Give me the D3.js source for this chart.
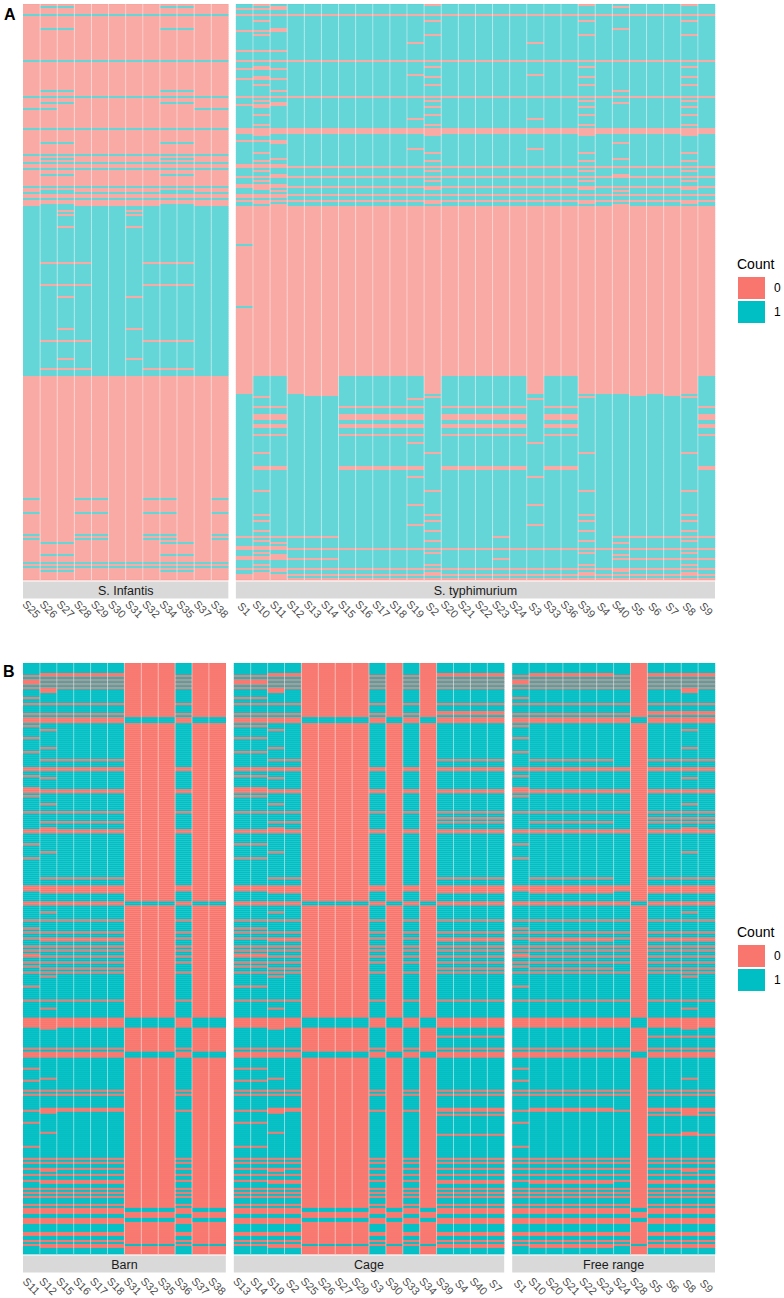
<!DOCTYPE html>
<html>
<head>
<meta charset="utf-8">
<script src="https://cdn.jsdelivr.net/npm/d3@7"></script>
<style>
  body { margin: 0; background: #fff; }
  svg text { font-family: "Liberation Sans", Arial, sans-serif; }
</style>
</head>
<body>
<svg id="chart" width="784" height="1298"></svg>
<script>
// column labels for each facet
var infantisCols = ["S25","S26","S27","S28","S29","S30","S31","S32","S34","S35","S37","S38"];
var typhiCols = ["S1","S10","S11","S12","S13","S14","S15","S16","S17","S18","S19","S2","S20","S21",
                 "S22","S23","S24","S3","S33","S36","S39","S4","S40","S5","S6","S7","S8","S9"];
var barnCols = ["S11","S12","S15","S16","S17","S18","S31","S32","S35","S36","S37","S38"];
var cageCols = ["S13","S14","S19","S2","S25","S26","S27","S29","S3","S30","S33","S34","S39","S4","S40","S7"];
var freeCols = ["S1","S10","S20","S21","S22","S23","S24","S28","S5","S6","S8","S9"];

var facetsA = ["S. Infantis", "S. typhimurium"];
var facetsB = ["Barn", "Cage", "Free range"];
var countLevels = ["0", "1"];

// row patterns (presence 0/1 per column, facets split by |)
var patternsA = {
  a:  "000000000000|1111111111111111111111111111",
  b:  "111111111111|0000000000000000000000000000",
  h:  "000000000000|0000000000000000000000000000",
  k:  "111111111111|1111111111111111111111111111",
  x:  "000000000000|0110001111101111101100000001",
  x2: "000000000000|1111001111111111111111101011",
  y:  "000000000000|1001110000010000010011111110",
  p:  "000000000000|1011111111101111111101111101",
  l:  "000000000000|0001111111111111111111111111",
  m:  "011000001100|1101111111111111111111011111",
  w:  "000000000000|1111111111011111101111111111",
  s:  "110111011111|0000000000000000000000000000",
  s3: "100011100011|0000000000000000000000000000",
  t:  "111111111111|1000000000000000000000000000",
  z2: "110000000011|1111111111111111111111111111",
  z3: "100110011001|1111111111111111111111111111",
  h2: "000000000000|0000001111111110111111000000"
};
var blocksA = [
  [1,"p"],[1,"m"],[1,"l"],[2,"a"],[1,"b"],[2,"a"],[1,"p"],[3,"a"],[1,"m"],[1,"l"],
  [1,"a"],[1,"p"],[3,"a"],[1,"w"],[3,"a"],[1,"l"],[4,"a"],[1,"b"],[2,"a"],[1,"p"],
  [1,"l"],[2,"a"],[1,"w"],[1,"p"],[1,"l"],[2,"a"],[1,"p"],[2,"a"],[1,"m"],[2,"a"],
  [1,"b"],[1,"a"],[1,"p"],[1,"m"],[1,"l"],[1,"p"],[1,"z2"],[2,"a"],[1,"p"],[1,"a"],
  [1,"w"],[2,"a"],[1,"p"],[1,"a"],[1,"b"],[2,"h"],
  [1,"p"],[2,"a"],[1,"l"],[1,"m"],[2,"a"],[1,"w"],[1,"a"],[1,"p"],[1,"k"],[1,"a"],
  [1,"m"],[1,"p"],[1,"k"],[1,"l"],[1,"h"],[1,"k"],[1,"p"],[1,"a"],[1,"m"],[1,"h"],
  [1,"a"],[1,"p"],[1,"a"],[1,"l"],[1,"b"],[1,"p"],[1,"m"],[1,"k"],[1,"h"],[1,"l"],
  [1,"k"],[1,"h"],[1,"p"],[1,"m"],
  [2,"b"],[1,"s"],[1,"b"],[1,"s"],[5,"b"],[1,"s"],[8,"b"],[1,"t"],[8,"b"],[1,"s3"],
  [10,"b"],[1,"s3"],[5,"b"],[1,"s"],[4,"b"],[1,"t"],[10,"b"],[1,"s"],[5,"b"],[1,"s3"],
  [8,"b"],[1,"s"],[4,"b"],[1,"s3"],[3,"b"],
  [9,"x"],[1,"x2"],
  [1,"p"],[1,"w"],[3,"a"],[1,"y"],[3,"a"],[3,"y"],[2,"a"],[2,"y"],[3,"a"],[1,"y"],
  [3,"a"],[1,"w"],[4,"a"],[1,"p"],[6,"a"],[2,"y"],[3,"a"],[1,"w"],[6,"a"],[1,"p"],
  [3,"a"],[1,"z3"],[2,"a"],[1,"w"],[3,"a"],[1,"z3"],[1,"p"],[2,"a"],
  [1,"p"],[1,"a"],[1,"w"],[2,"a"],[1,"p"],[1,"a"],[1,"z3"],[1,"h2"],[1,"z3"],[1,"p"],
  [1,"m"],[1,"a"],[1,"l"],[1,"h"],[1,"a"],[1,"p"],[1,"m"],[1,"l"],[1,"h2"],[1,"a"],
  [1,"k"],[1,"p"],[1,"k"],[1,"h"],[1,"m"],[1,"p"],[1,"h"],[1,"l"],[1,"h"]
];

var patternsB = {
  P: "111111000100|1111000010101111|111111101111",
  Z: "000000000000|0000000000000000|000000000000",
  I: "000000111011|0000111101010000|000000010000",
  L: "011111000100|0011000010101111|011111101111",
  R: "111111000100|1111000010100000|111111100000",
  C: "101111000100|1101000010101111|111111101101",
  D: "100000000100|1100000010100000|100000100000"
};
var blocksB = [
  [5,"P"],[1,"D"],[1,"Z"],[1,"P"],[1,"Z"],[1,"L"],[1,"Z"],[1,"P"],[1,"Z"],[2,"C"],
  [2,"P"],[1,"L"],[2,"P"],[1,"Z"],[3,"P"],[1,"R"],[1,"Z"],[1,"P"],[3,"I"],[1,"P"],
  [1,"L"],[1,"P"],[1,"C"],[3,"P"],[1,"L"],[4,"P"],[1,"C"],[1,"P"],[1,"L"],[3,"P"],
  [1,"D"],[3,"P"],[2,"Z"],[2,"P"],[1,"L"],[1,"C"],[4,"P"],[1,"L"],[2,"Z"],[1,"P"],
  [1,"L"],[3,"P"],[1,"C"],[3,"P"],[1,"Z"],[2,"P"],[1,"R"],[1,"P"],[1,"D"],[2,"P"],
  [1,"C"],[2,"Z"],[5,"P"],[1,"L"],[3,"P"],[1,"C"],[2,"P"],[1,"L"],[9,"P"],[1,"D"],
  [3,"P"],[3,"Z"],[1,"D"],[4,"P"],[2,"I"],[3,"P"],[1,"C"],[3,"P"],[1,"Z"],[3,"P"],
  [1,"L"],[1,"P"],[1,"Z"],[2,"P"],[1,"Z"],[1,"D"],[2,"P"],[1,"Z"],
  [1,"P"],[1,"Z"],[1,"P"],[1,"L"],[1,"Z"],[2,"P"],[1,"Z"],[1,"P"],[1,"L"],[1,"D"],
  [1,"P"],[1,"Z"],[1,"P"],[1,"C"],[4,"P"],[1,"L"],[6,"P"],[1,"Z"],[3,"P"],[1,"C"],
  [4,"P"],[5,"I"],[1,"C"],[3,"P"],[1,"R"],[5,"P"],[1,"Z"],[1,"P"],[3,"I"],[5,"P"],
  [1,"L"],[4,"P"],[1,"C"],[1,"L"],[4,"P"],[1,"Z"],[1,"P"],[1,"Z"],[6,"P"],[1,"D"],
  [1,"Z"],[1,"C"],[1,"R"],[3,"P"],[1,"L"],[4,"P"],[1,"C"],[1,"R"],[5,"P"],[1,"L"],
  [5,"P"],[1,"Z"],[1,"P"],[1,"Z"],[2,"P"],[1,"Z"],[1,"C"],[1,"P"],[1,"Z"],[2,"P"],
  [1,"Z"],[1,"D"],[2,"P"],[1,"Z"],[1,"P"],[1,"Z"],[1,"P"],[1,"Z"],[3,"P"],[1,"Z"],
  [1,"P"],[2,"I"],[1,"Z"],[2,"P"],[2,"I"],[1,"Z"],[4,"P"],[2,"Z"],[2,"P"],[1,"Z"],
  [1,"P"],[1,"I"],[1,"D"],[3,"P"]
];

var svg = d3.select("#chart");

function expand(blocks, patterns) {
  var rows = [];
  blocks.forEach(function(b) {
    for (var i = 0; i < b[0]; i++) rows.push(patterns[b[1]].split("|"));
  });
  return rows;
}

function drawPanel(opts) {
  var rows = expand(opts.blocks, opts.patterns);
  var nCols = d3.sum(opts.cols, function(c) { return c.length; });
  var colW = (opts.x1 - opts.x0 - opts.gap * (opts.cols.length - 1)) / nCols;

  var y = d3.scaleBand()
    .domain(d3.range(rows.length))
    .range([opts.y0, opts.y1]);

  var fill = d3.scaleOrdinal().domain(countLevels).range(opts.colors);

  var left = opts.x0;
  opts.cols.forEach(function(cols, f) {
    var w = cols.length * colW;
    var x = d3.scaleBand().domain(cols).range([left, left + w]);
    var g = svg.append("g");

    var cells = [];
    rows.forEach(function(r, i) {
      cols.forEach(function(c, j) {
        cells.push({ row: i, col: c, v: r[f].charAt(j) });
      });
    });

    g.selectAll("rect.cell")
      .data(cells)
      .enter()
      .append("rect")
      .attr("class", "cell")
      .attr("x", function(d) { return x(d.col); })
      .attr("y", function(d) { return y(d.row); })
      .attr("width", x.bandwidth() + 0.2)
      .attr("height", y.bandwidth() + 0.4)
      .attr("fill", function(d) { return fill(d.v); });

    // faint row separators
    g.selectAll("line.row")
      .data(d3.range(1, rows.length))
      .enter()
      .append("line")
      .attr("x1", left).attr("x2", left + w)
      .attr("y1", function(d) { return y(d); })
      .attr("y2", function(d) { return y(d); })
      .attr("stroke", "#fff")
      .attr("stroke-width", 0.4)
      .attr("stroke-opacity", opts.rowLine);

    // column separators
    g.selectAll("line.col")
      .data(cols.slice(1))
      .enter()
      .append("line")
      .attr("x1", function(d) { return x(d); })
      .attr("x2", function(d) { return x(d); })
      .attr("y1", opts.y0).attr("y2", opts.y1)
      .attr("stroke", "#fff")
      .attr("stroke-width", 0.8)
      .attr("stroke-opacity", 0.55);

    // strip
    g.append("rect")
      .attr("x", left).attr("y", opts.y1 + 1.5)
      .attr("width", w).attr("height", 17)
      .attr("fill", "#D9D9D9");
    g.append("text")
      .attr("x", left + w / 2).attr("y", opts.y1 + 14.5)
      .attr("text-anchor", "middle")
      .attr("font-size", 12.5)
      .attr("fill", "#1A1A1A")
      .text(opts.facets[f]);

    // rotated column labels
    g.selectAll("text.tick")
      .data(cols)
      .enter()
      .append("text")
      .attr("class", "tick")
      .attr("transform", function(d) {
        return "translate(" + (x(d) + x.bandwidth() / 2) + "," + opts.labelY + ") rotate(45)";
      })
      .attr("text-anchor", "middle")
      .attr("dominant-baseline", "central")
      .attr("font-size", 11)
      .attr("fill", "#4D4D4D")
      .text(function(d) { return d; });

    left += w + opts.gap;
  });

  // legend
  var lg = svg.append("g").attr("transform", "translate(737," + opts.legendY + ")");
  lg.append("text").attr("x", 0).attr("y", 0).attr("font-size", 14).attr("fill", "#000").text("Count");
  var key = d3.scaleOrdinal().domain(countLevels).range(["#F8766D", "#00BFC4"]);
  lg.selectAll("rect")
    .data(countLevels)
    .enter()
    .append("rect")
    .attr("x", 1)
    .attr("y", function(d, i) { return 8 + i * 24; })
    .attr("width", 27).attr("height", 22)
    .attr("fill", function(d) { return key(d); });
  lg.selectAll("text.lab")
    .data(countLevels)
    .enter()
    .append("text")
    .attr("class", "lab")
    .attr("x", 37)
    .attr("y", function(d, i) { return 8 + i * 24 + 15; })
    .attr("font-size", 12)
    .attr("fill", "#000")
    .text(function(d) { return d; });

  svg.append("text")
    .attr("x", opts.tagX).attr("y", opts.tagY)
    .attr("font-size", 16).attr("font-weight", "bold")
    .text(opts.tag);
}

drawPanel({
  blocks: blocksA, patterns: patternsA,
  cols: [infantisCols, typhiCols], facets: facetsA,
  x0: 23, x1: 715, gap: 7.5, y0: 4, y1: 580,
  colors: ["#F9A49F", "#5AD4D6"], rowLine: 0.35,
  labelY: 609, legendY: 269, tag: "A", tagX: 4, tagY: 20
});

drawPanel({
  blocks: blocksB, patterns: patternsB,
  cols: [barnCols, cageCols, freeCols], facets: facetsB,
  x0: 23, x1: 715, gap: 8, y0: 663, y1: 1254,
  colors: ["#F8766D", "#00BFC4"], rowLine: 0.15,
  labelY: 1286, legendY: 937, tag: "B", tagX: 3, tagY: 677
});
</script>
</body>
</html>
